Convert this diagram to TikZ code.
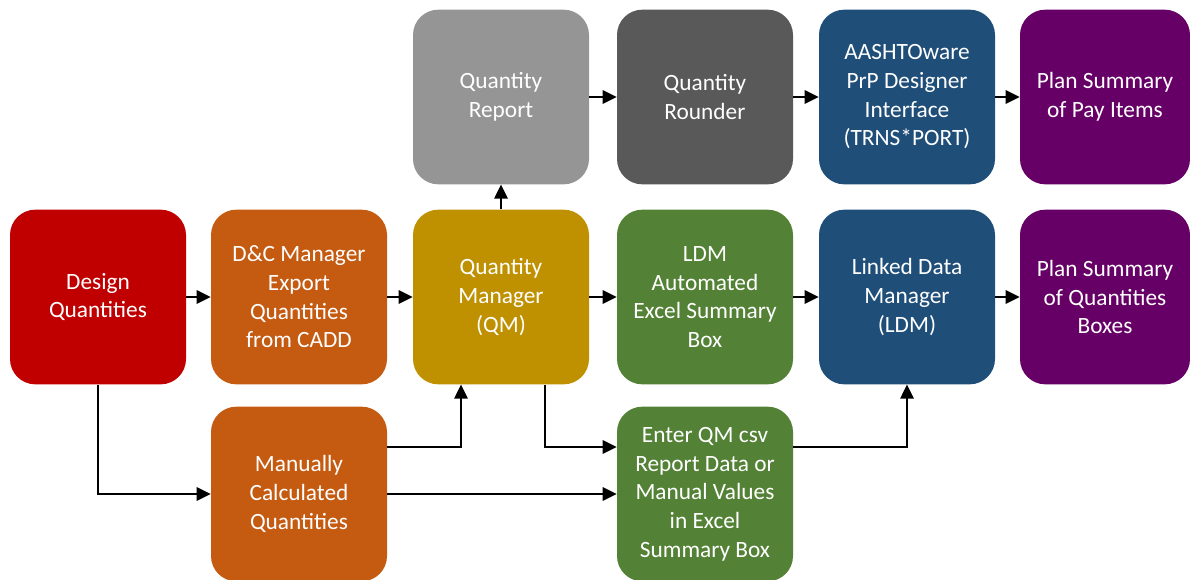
\documentclass[tikz,border=0pt]{standalone}
\usepackage{fontspec}
\setmainfont{Carlito}
\usetikzlibrary{arrows.meta}
\definecolor{cred}{HTML}{C00000}
\definecolor{corange}{HTML}{C55A11}
\definecolor{cgold}{HTML}{BF9000}
\definecolor{cgreen}{HTML}{538135}
\definecolor{cgrayl}{HTML}{959595}
\definecolor{cgrayd}{HTML}{595959}
\definecolor{cblue}{HTML}{1F4E79}
\definecolor{cpurple}{HTML}{660066}
\tikzset{
  box/.style={rounded corners=19pt, minimum width=132pt, minimum height=131pt,
    text=white, align=center, inner sep=2pt,
    font=\fontsize{17.5pt}{21.5pt}\selectfont},
  endbox/.style={box, minimum width=127.5pt},
  arr/.style={draw=black, line width=1.4pt, -{Triangle[length=10.5pt,width=10pt]}}
}
\begin{document}
\begin{tikzpicture}[x=0.75pt,y=-0.75pt]
\useasboundingbox (0,0) rectangle (1190,579);
\clip (0,0) rectangle (1190,579);
% top row
\node[box, fill=cgrayl] (rep) at (501,97) {Quantity\\Report};
\node[box, fill=cgrayd] (rnd) at (705,97) {Quantity\\Rounder};
\node[box, fill=cblue] (aas) at (907,97) {AASHTOware\\PrP Designer\\Interface\\(TRNS*PORT)};
\node[endbox, fill=cpurple] (pay) at (1105,97) {Plan Summary\\of Pay Items};
% middle row
\node[box, fill=cred] (des) at (98,297) {Design\\Quantities};
\node[box, fill=corange] (dc) at (299,297) {D\&C Manager\\Export\\Quantities\\from CADD};
\node[box, fill=cgold] (qm) at (501,297) {Quantity\\Manager\\(QM)};
\node[box, fill=cgreen] (auto) at (705,297) {LDM\\Automated\\Excel Summary\\Box};
\node[box, fill=cblue] (ldm) at (907,297) {Linked Data\\Manager\\(LDM)};
\node[endbox, fill=cpurple] (psq) at (1105,297) {Plan Summary\\of Quantities\\Boxes};
% bottom row
\node[box, fill=corange] (man) at (299,494) {Manually\\Calculated\\Quantities};
\node[box, fill=cgreen] (ent) at (705,494) {Enter QM csv\\Report Data or\\Manual Values\\in Excel\\Summary Box};
% connectors
\draw[arr] (rep) -- (rnd);
\draw[arr] (rnd) -- (aas);
\draw[arr] (aas) -- (pay);
\draw[arr] (des) -- (dc);
\draw[arr] (dc) -- (qm);
\draw[arr] (qm) -- (auto);
\draw[arr] (auto) -- (ldm);
\draw[arr] (ldm) -- (psq);
\draw[arr] (qm) -- (rep);
\draw[arr] (des.south) |- (man.west);
\draw[arr] ([yshift=35.25pt]man.east) -| ([xshift=-30pt]qm.south);
\draw[arr] ([xshift=33pt]qm.south) |- ([yshift=35.25pt]ent.west);
\draw[arr] (man.east) -- (ent.west);
\draw[arr] ([yshift=35.25pt]ent.east) -| (ldm.south);
\end{tikzpicture}
\end{document}
